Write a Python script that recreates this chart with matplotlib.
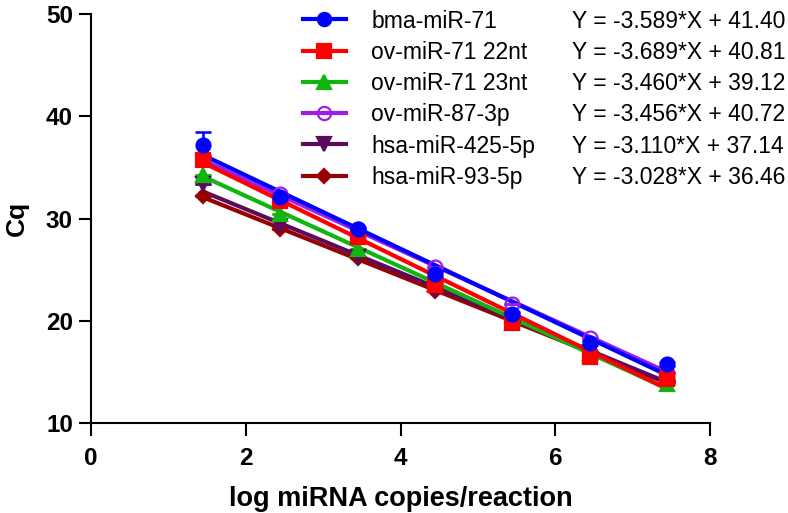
import numpy as np
import matplotlib
matplotlib.use('Agg')
import matplotlib.pyplot as plt
from matplotlib.lines import Line2D

plt.rcParams['font.family'] = ['Liberation Sans', 'DejaVu Sans']

# log copies per reaction
x = np.array([1.447, 2.447, 3.447, 4.447, 5.447, 6.447, 7.447])

names = ['bma-miR-71', 'ov-miR-71 22nt', 'ov-miR-71 23nt',
         'ov-miR-87-3p', 'hsa-miR-425-5p', 'hsa-miR-93-5p']
slopes = [-3.589, -3.689, -3.460, -3.456, -3.110, -3.028]
intercepts = [41.40, 40.81, 39.12, 40.72, 37.14, 36.46]

# mean Cq
bma71 = [37.2, 32.1, 29.0, 24.6, 20.7, 17.8, 15.8]
ov71_22 = [35.7, 31.7, 28.2, 23.5, 19.8, 16.5, 14.3]
ov71_23 = [34.3, 30.4, 27.0, 23.6, 19.8, 16.8, 13.8]
ov87 = [36.0, 32.4, 29.0, 25.3, 21.6, 18.3, 14.9]
hsa425 = [33.4, 29.3, 26.2, 23.0, 20.0, 16.9, 14.2]
hsa93 = [32.2, 29.0, 26.1, 22.9, 19.9, 16.9, 14.0]
series = [bma71, ov71_22, ov71_23, ov87, hsa425, hsa93]

# SD (only first blue one is really visible)
bma71_sd = [1.3, 0.3, 0.2, 0.2, 0.2, 0.2, 0.2]
ov71_22_sd = [0.5, 0.2, 0.2, 0.2, 0.2, 0.2, 0.2]
zero_sd = [0, 0, 0, 0, 0, 0, 0]
sds = [bma71_sd, ov71_22_sd, zero_sd, zero_sd, zero_sd, zero_sd]

colors = ['#0000ff', '#ff0000', '#11b511', '#9e1ee6', '#5c0a5c', '#990000']
markers = ['o', 's', '^', 'o', 'v', 'D']
msizes = [10, 10, 10, 10, 10, 7.5]
faces = ['#0000ff', '#ff0000', '#11b511', 'none', '#5c0a5c', '#990000']

fig = plt.figure(figsize=(7.88, 5.13), dpi=100)
ax = fig.add_axes([0.1155, 0.1754, 0.7855, 0.7973])

for i in reversed(range(6)):
    ax.errorbar(x, series[i], yerr=sds[i], fmt='none', ecolor=colors[i],
                elinewidth=1.8, capsize=6, capthick=1.8, zorder=3 + i * 0.1)
    fit = slopes[i] * x + intercepts[i]
    ax.plot(x, fit, color=colors[i], lw=3.0, zorder=2 + (5 - i) * 0.1)
    ax.plot(x, series[i], linestyle='none', marker=markers[i], ms=msizes[i],
            mfc=faces[i], mec=colors[i], mew=1.6, zorder=4 + (5 - i) * 0.1)

handles = []
for i in range(6):
    handles.append(Line2D([], [], color=colors[i], lw=3.0, marker=markers[i],
                          ms=msizes[i] * 0.95, mfc=faces[i], mec=colors[i], mew=1.6))
blank = [Line2D([], [], color='none') for i in range(6)]
eqs = ['Y = %.3f*X + %.2f' % (slopes[i], intercepts[i]) for i in range(6)]

ax.legend(handles + blank, names + eqs, ncol=2, loc='upper left',
          bbox_to_anchor=(0.342, 1.011), frameon=False, fontsize=16.5,
          borderpad=0, borderaxespad=0, handlelength=1.9, handletextpad=1.1,
          labelspacing=0.36, columnspacing=-1.4)

ax.set_xlim(0, 8)
ax.set_ylim(10, 50)
ax.set_xticks([0, 2, 4, 6, 8])
ax.set_yticks([10, 20, 30, 40, 50])
ax.spines['top'].set_visible(False)
ax.spines['right'].set_visible(False)
for s in ['left', 'bottom']:
    ax.spines[s].set_linewidth(1.5)
ax.tick_params(width=1.5, length=9, labelsize=17.5)
ax.tick_params(axis='x', pad=8)
ax.tick_params(axis='y', pad=4)
for lab in ax.get_xticklabels() + ax.get_yticklabels():
    lab.set_fontweight('bold')
ax.set_xlabel('log miRNA copies/reaction', fontsize=19.5, fontweight='bold', labelpad=12)
ax.set_ylabel('Cq', fontsize=19, fontweight='bold', labelpad=12)

fig.savefig('out.png', dpi=100)
